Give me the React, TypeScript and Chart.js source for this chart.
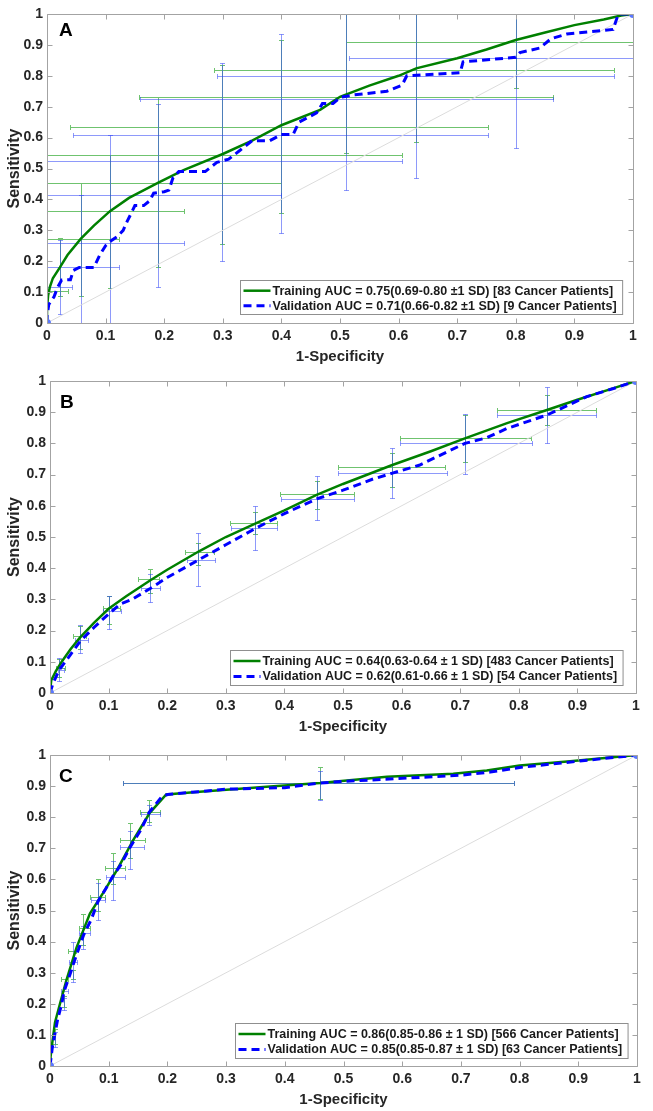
import React, { useEffect, useRef } from 'react';
import { Chart, registerables } from 'chart.js';

Chart.register(...registerables);

// ---------- shared ticks ----------
const TICK_VALUES = [0, 0.1, 0.2, 0.3, 0.4, 0.5, 0.6, 0.7, 0.8, 0.9, 1];
const TICK_LABELS = ['0', '0.1', '0.2', '0.3', '0.4', '0.5', '0.6', '0.7', '0.8', '0.9', '1'];
const X_TITLE = '1-Specificity';
const Y_TITLE = 'Sensitivity';
const DIAG_X = [0, 1];
const DIAG_Y = [0, 1];

// ---------- Panel A ----------
const A_TRAIN_X = [0, 0, 0.002, 0.005, 0.01, 0.022, 0.035, 0.0575, 0.08, 0.1075, 0.14, 0.19, 0.233, 0.3, 0.35, 0.4, 0.466, 0.5, 0.55, 0.6, 0.63, 0.7, 0.75, 0.8, 0.85, 0.9, 0.95, 0.98, 1];
const A_TRAIN_Y = [0, 0.05, 0.09, 0.117, 0.145, 0.18, 0.22, 0.272, 0.315, 0.362, 0.405, 0.454, 0.495, 0.547, 0.59, 0.64, 0.69, 0.732, 0.768, 0.8, 0.824, 0.857, 0.885, 0.916, 0.94, 0.964, 0.982, 0.995, 1];
const A_VALID_X = [0, 0, 0.003, 0.012, 0.018, 0.025, 0.04, 0.045, 0.055, 0.08, 0.09, 0.1, 0.11, 0.12, 0.13, 0.137, 0.145, 0.15, 0.165, 0.175, 0.182, 0.2, 0.208, 0.215, 0.225, 0.27, 0.29, 0.31, 0.33, 0.35, 0.38, 0.4, 0.42, 0.43, 0.46, 0.47, 0.488, 0.5, 0.523, 0.58, 0.606, 0.614, 0.705, 0.71, 0.8, 0.807, 0.841, 0.86, 0.887, 0.966, 0.975, 1];
const A_VALID_Y = [0, 0.02, 0.06, 0.085, 0.115, 0.139, 0.14, 0.17, 0.18, 0.18, 0.22, 0.25, 0.267, 0.28, 0.3, 0.33, 0.36, 0.38, 0.38, 0.395, 0.42, 0.425, 0.43, 0.47, 0.49, 0.49, 0.52, 0.53, 0.56, 0.59, 0.59, 0.61, 0.61, 0.65, 0.68, 0.71, 0.71, 0.73, 0.738, 0.75, 0.77, 0.8, 0.81, 0.845, 0.86, 0.875, 0.89, 0.92, 0.935, 0.95, 1, 1];
// vertical error bars: [x, yLow, yHigh]; horizontal: [y, xLow, xHigh]
const A_TRAIN_VBARS = [[0.022, 0.087, 0.275], [0.0575, 0.087, 0.454], [0.1075, 0.112, 0.545], [0.19, 0.18, 0.73], [0.298, 0.255, 0.835], [0.4, 0.355, 0.915], [0.51, 0.55, 1], [0.63, 0.586, 1], [0.8, 0.76, 1]];
const A_VALID_VBARS = [[0.022, 0.03, 0.27], [0.0575, 0, 0.415], [0.1075, 0, 0.61], [0.19, 0.117, 0.71], [0.298, 0.2, 0.84], [0.4, 0.29, 0.935], [0.51, 0.43, 1], [0.63, 0.47, 1], [0.8, 0.567, 1]];
const A_TRAIN_HBARS = [[0.105, 0, 0.035], [0.272, 0, 0.123], [0.362, 0, 0.233], [0.454, 0, 0.4], [0.545, 0, 0.605], [0.635, 0.04, 0.753], [0.73, 0.157, 0.864], [0.818, 0.285, 0.968], [0.91, 0.511, 1]];
const A_VALID_HBARS = [[0.117, 0, 0.042], [0.18, 0, 0.123], [0.26, 0, 0.233], [0.414, 0, 0.4], [0.523, 0, 0.605], [0.61, 0.045, 0.753], [0.725, 0.158, 0.864], [0.8, 0.29, 0.968], [0.857, 0.515, 1]];
const A_TRAIN_LABEL = 'Training AUC = 0.75(0.69-0.80 \u00B11 SD) [83 Cancer Patients]';
const A_VALID_LABEL = 'Validation AUC = 0.71(0.66-0.82 \u00B11 SD) [9 Cancer Patients]';

// ---------- Panel B ----------
const B_TRAIN_X = [0, 0.002, 0.01, 0.02, 0.035, 0.05, 0.075, 0.1, 0.13, 0.17, 0.2, 0.255, 0.3, 0.353, 0.4, 0.455, 0.5, 0.583, 0.65, 0.708, 0.78, 0.848, 0.9, 0.95, 1];
const B_TRAIN_Y = [0, 0.04, 0.07, 0.1, 0.14, 0.175, 0.225, 0.27, 0.31, 0.36, 0.395, 0.455, 0.5, 0.545, 0.585, 0.635, 0.67, 0.73, 0.775, 0.816, 0.865, 0.907, 0.94, 0.97, 1];
const B_VALID_X = [0, 0.005, 0.016, 0.03, 0.051, 0.075, 0.101, 0.12, 0.14, 0.171, 0.2, 0.253, 0.3, 0.353, 0.4, 0.455, 0.5, 0.55, 0.583, 0.63, 0.708, 0.745, 0.78, 0.848, 0.916, 0.96, 1];
const B_VALID_Y = [0, 0.03, 0.075, 0.11, 0.165, 0.21, 0.255, 0.285, 0.3, 0.335, 0.37, 0.426, 0.475, 0.53, 0.575, 0.622, 0.65, 0.685, 0.704, 0.73, 0.8, 0.818, 0.848, 0.891, 0.95, 0.975, 1];
const B_TRAIN_VBARS = [[0.016, 0.05, 0.11], [0.051, 0.14, 0.215], [0.101, 0.22, 0.31], [0.171, 0.32, 0.396], [0.253, 0.41, 0.48], [0.349, 0.51, 0.58], [0.455, 0.59, 0.68], [0.583, 0.66, 0.77], [0.708, 0.74, 0.89], [0.848, 0.86, 0.955]];
const B_VALID_VBARS = [[0.016, 0.039, 0.111], [0.051, 0.127, 0.218], [0.101, 0.204, 0.311], [0.171, 0.293, 0.38], [0.253, 0.343, 0.512], [0.349, 0.458, 0.6], [0.455, 0.555, 0.695], [0.583, 0.626, 0.786], [0.708, 0.701, 0.893], [0.848, 0.8, 0.982]];
const B_TRAIN_HBARS = [[0.08, 0.01, 0.025], [0.182, 0.04, 0.062], [0.273, 0.09, 0.119], [0.364, 0.151, 0.186], [0.453, 0.231, 0.28], [0.545, 0.307, 0.387], [0.637, 0.392, 0.518], [0.725, 0.492, 0.674], [0.816, 0.597, 0.82], [0.907, 0.762, 0.932]];
const B_VALID_HBARS = [[0.075, 0.013, 0.024], [0.17, 0.042, 0.065], [0.262, 0.09, 0.121], [0.336, 0.155, 0.188], [0.426, 0.233, 0.282], [0.53, 0.309, 0.387], [0.622, 0.395, 0.518], [0.704, 0.492, 0.677], [0.8, 0.597, 0.823], [0.891, 0.763, 0.932]];
const B_TRAIN_LABEL = 'Training AUC = 0.64(0.63-0.64 \u00B1 1 SD) [483 Cancer Patients]';
const B_VALID_LABEL = 'Validation AUC = 0.62(0.61-0.66 \u00B1 1 SD) [54 Cancer Patients]';

// ---------- Panel C ----------
const C_TRAIN_X = [0, 0.001, 0.003, 0.0085, 0.017, 0.028, 0.045, 0.068, 0.09, 0.114, 0.142, 0.17, 0.198, 0.255, 0.369, 0.46, 0.574, 0.687, 0.744, 0.8, 0.886, 1];
const C_TRAIN_Y = [0, 0.03, 0.062, 0.14, 0.2, 0.276, 0.38, 0.49, 0.555, 0.63, 0.727, 0.814, 0.873, 0.882, 0.898, 0.91, 0.93, 0.94, 0.95, 0.966, 0.98, 1];
const C_VALID_X = [0, 0.004, 0.008, 0.013, 0.02, 0.024, 0.035, 0.042, 0.057, 0.07, 0.082, 0.095, 0.107, 0.12, 0.137, 0.155, 0.169, 0.19, 0.2, 0.3, 0.4, 0.46, 0.5, 0.6, 0.7, 0.75, 0.8, 0.9, 1];
const C_VALID_Y = [0, 0.06, 0.1, 0.15, 0.2, 0.24, 0.3, 0.34, 0.42, 0.47, 0.53, 0.57, 0.61, 0.645, 0.705, 0.76, 0.816, 0.865, 0.873, 0.89, 0.895, 0.91, 0.915, 0.925, 0.935, 0.945, 0.96, 0.98, 1];
const C_TRAIN_VBARS = [[0.0085, 0.07, 0.12], [0.024, 0.19, 0.225], [0.039, 0.28, 0.31], [0.057, 0.39, 0.49], [0.082, 0.5, 0.6], [0.107, 0.585, 0.685], [0.137, 0.67, 0.78], [0.169, 0.785, 0.855], [0.46, 0.86, 0.96]];
const C_VALID_VBARS = [[0.0085, 0.06, 0.11], [0.024, 0.18, 0.22], [0.039, 0.27, 0.4], [0.057, 0.375, 0.45], [0.082, 0.47, 0.59], [0.107, 0.535, 0.66], [0.137, 0.635, 0.755], [0.169, 0.775, 0.84], [0.46, 0.855, 0.95]];
const C_TRAIN_HBARS = [[0.28, 0.018, 0.03], [0.37, 0.03, 0.045], [0.445, 0.05, 0.068], [0.542, 0.068, 0.093], [0.636, 0.093, 0.127], [0.727, 0.119, 0.162], [0.816, 0.153, 0.187], [0.91, 0.125, 0.79]];
const C_VALID_HBARS = [[0.24, 0.018, 0.03], [0.335, 0.032, 0.046], [0.427, 0.05, 0.068], [0.534, 0.07, 0.093], [0.609, 0.095, 0.128], [0.705, 0.12, 0.16], [0.81, 0.155, 0.187], [0.91, 0.125, 0.79]];
const C_TRAIN_LABEL = 'Training AUC = 0.86(0.85-0.86 \u00B1 1 SD) [566 Cancer Patients]';
const C_VALID_LABEL = 'Validation AUC = 0.85(0.85-0.87 \u00B1 1 SD) [63 Cancer Patients]';

// ---------- styling / layout ----------
const FONT = '"Liberation Sans", Arial, Helvetica, sans-serif';
const TEXT_COLOR = '#262626';
const TRAIN_COLOR = '#008000';
const VALID_COLOR = '#0000ff';
const TRAIN_BAR_COLOR = '#6fc36f';
const VALID_BAR_COLOR = 'rgba(50,70,245,0.55)';
const BOX_COLOR = '#a3a3a3';

type Bar = number[];
interface Panel {
  letter: string;
  trainX: number[]; trainY: number[];
  validX: number[]; validY: number[];
  trainV: Bar[]; validV: Bar[]; trainH: Bar[]; validH: Bar[];
  trainLabel: string; validLabel: string;
  layout: { top: number; height: number; padTop: number; yAxisW: number; padRight: number; xAxisH: number; letterDx: number; letterDy: number; legRight: number; legBottom: number; legH: number };
}

const PANELS: Panel[] = [
  {
    letter: 'A', trainX: A_TRAIN_X, trainY: A_TRAIN_Y, validX: A_VALID_X, validY: A_VALID_Y,
    trainV: A_TRAIN_VBARS, validV: A_VALID_VBARS, trainH: A_TRAIN_HBARS, validH: A_VALID_HBARS,
    trainLabel: A_TRAIN_LABEL, validLabel: A_VALID_LABEL,
    layout: { top: 0, height: 368, padTop: 14, yAxisW: 47, padRight: 20, xAxisH: 45, letterDx: 12, letterDy: 22, legRight: 11, legBottom: 9, legH: 34 },
  },
  {
    letter: 'B', trainX: B_TRAIN_X, trainY: B_TRAIN_Y, validX: B_VALID_X, validY: B_VALID_Y,
    trainV: B_TRAIN_VBARS, validV: B_VALID_VBARS, trainH: B_TRAIN_HBARS, validH: B_VALID_HBARS,
    trainLabel: B_TRAIN_LABEL, validLabel: B_VALID_LABEL,
    layout: { top: 368, height: 370, padTop: 13, yAxisW: 50, padRight: 17, xAxisH: 45, letterDx: 10, letterDy: 27, legRight: 13, legBottom: 8, legH: 35 },
  },
  {
    letter: 'C', trainX: C_TRAIN_X, trainY: C_TRAIN_Y, validX: C_VALID_X, validY: C_VALID_Y,
    trainV: C_TRAIN_VBARS, validV: C_VALID_VBARS, trainH: C_TRAIN_HBARS, validH: C_VALID_HBARS,
    trainLabel: C_TRAIN_LABEL, validLabel: C_VALID_LABEL,
    layout: { top: 738, height: 373, padTop: 17, yAxisW: 50, padRight: 16, xAxisH: 45, letterDx: 9, letterDy: 27, legRight: 9, legBottom: 8, legH: 35 },
  },
];

const toPoints = (xs: number[], ys: number[]) => xs.map((x, i) => ({ x, y: ys[i] }));

function makeDecor(p: Panel) {
  const CAP = 2.5;
  const drawBars = (chart: any, bars: Bar[], vertical: boolean, color: string) => {
    const { ctx } = chart;
    const xs = chart.scales.x;
    const ys = chart.scales.y;
    ctx.strokeStyle = color;
    ctx.lineWidth = 1;
    ctx.beginPath();
    for (const [c, lo, hi] of bars) {
      if (vertical) {
        const x = Math.round(xs.getPixelForValue(c)) + 0.5;
        const y1 = Math.round(ys.getPixelForValue(lo)) + 0.5;
        const y2 = Math.round(ys.getPixelForValue(hi)) + 0.5;
        ctx.moveTo(x, y1); ctx.lineTo(x, y2);
        ctx.moveTo(x - CAP, y1); ctx.lineTo(x + CAP, y1);
        ctx.moveTo(x - CAP, y2); ctx.lineTo(x + CAP, y2);
      } else {
        const y = Math.round(ys.getPixelForValue(c)) + 0.5;
        const x1 = Math.round(xs.getPixelForValue(lo)) + 0.5;
        const x2 = Math.round(xs.getPixelForValue(hi)) + 0.5;
        ctx.moveTo(x1, y); ctx.lineTo(x2, y);
        ctx.moveTo(x1, y - CAP); ctx.lineTo(x1, y + CAP);
        ctx.moveTo(x2, y - CAP); ctx.lineTo(x2, y + CAP);
      }
    }
    ctx.stroke();
  };
  return {
    id: 'decor' + p.letter,
    beforeDatasetsDraw(chart: any) {
      const { ctx, chartArea: a } = chart;
      ctx.save();
      ctx.beginPath();
      ctx.rect(a.left - 3, a.top - 1, a.right - a.left + 6, a.bottom - a.top + 2);
      ctx.clip();
      drawBars(chart, p.trainH, false, TRAIN_BAR_COLOR);
      drawBars(chart, p.trainV, true, TRAIN_BAR_COLOR);
      drawBars(chart, p.validH, false, VALID_BAR_COLOR);
      drawBars(chart, p.validV, true, VALID_BAR_COLOR);
      ctx.restore();
    },
    afterDraw(chart: any) {
      const { ctx, chartArea: a } = chart;
      const xs = chart.scales.x;
      const ys = chart.scales.y;
      ctx.save();
      // axes box with inward ticks
      ctx.strokeStyle = BOX_COLOR;
      ctx.lineWidth = 1;
      const L = Math.round(a.left) + 0.5, R = Math.round(a.right) + 0.5;
      const T = Math.round(a.top) + 0.5, B = Math.round(a.bottom) + 0.5;
      ctx.beginPath();
      ctx.rect(L, T, R - L, B - T);
      const TL = 5;
      for (const v of TICK_VALUES) {
        const x = Math.round(xs.getPixelForValue(v)) + 0.5;
        ctx.moveTo(x, B); ctx.lineTo(x, B - TL);
        ctx.moveTo(x, T); ctx.lineTo(x, T + TL);
        const y = Math.round(ys.getPixelForValue(v)) + 0.5;
        ctx.moveTo(L, y); ctx.lineTo(L + TL, y);
        ctx.moveTo(R, y); ctx.lineTo(R - TL, y);
      }
      ctx.stroke();

      // panel letter
      ctx.fillStyle = '#000';
      ctx.font = `bold 19px ${FONT}`;
      ctx.textAlign = 'left';
      ctx.textBaseline = 'alphabetic';
      ctx.fillText(p.letter, a.left + p.layout.letterDx, a.top + p.layout.letterDy);

      // legend
      ctx.font = `bold 12.5px ${FONT}`;
      const tw = Math.max(ctx.measureText(p.trainLabel).width, ctx.measureText(p.validLabel).width);
      const padL = 3, sample = 27, gap = 2, padR = 6;
      const bw = padL + sample + gap + tw + padR;
      const bh = p.layout.legH;
      const bx = Math.round(a.right - p.layout.legRight - bw) + 0.5;
      const by = Math.round(a.bottom - p.layout.legBottom - bh) + 0.5;
      ctx.fillStyle = '#fff';
      ctx.fillRect(bx, by, bw, bh);
      ctx.strokeStyle = '#8f8f8f';
      ctx.lineWidth = 1;
      ctx.strokeRect(bx, by, bw, bh);
      const rows = [
        { label: p.trainLabel, color: TRAIN_COLOR, width: 2.5, dash: [] as number[], cy: by + bh * 0.3 },
        { label: p.validLabel, color: VALID_COLOR, width: 3, dash: [8, 5], cy: by + bh * 0.74 },
      ];
      for (const r of rows) {
        ctx.beginPath();
        ctx.strokeStyle = r.color;
        ctx.lineWidth = r.width;
        ctx.setLineDash(r.dash);
        ctx.moveTo(bx + padL, r.cy);
        ctx.lineTo(bx + padL + sample, r.cy);
        ctx.stroke();
        ctx.setLineDash([]);
        ctx.fillStyle = '#1a1a1a';
        ctx.textBaseline = 'middle';
        ctx.fillText(r.label, bx + padL + sample + gap, r.cy + 0.5);
      }
      ctx.restore();
    },
  };
}

function RocPanel({ p }: { p: Panel }) {
  const ref = useRef<HTMLCanvasElement | null>(null);
  useEffect(() => {
    const canvas = ref.current;
    if (!canvas) return;
    const lay = p.layout;
    const lastIdx = p.validX.length - 1;
    const chart = new Chart(canvas, {
      type: 'scatter',
      data: {
        datasets: [
          {
            label: p.validLabel,
            data: toPoints(p.validX, p.validY),
            showLine: true,
            borderColor: VALID_COLOR,
            borderWidth: 3,
            borderDash: [8, 5],
            pointRadius: (c: any) => (c.dataIndex === 0 || c.dataIndex === lastIdx ? 2.5 : 0),
            pointBackgroundColor: '#5a78ff',
            pointBorderColor: '#5a78ff',
            tension: 0,
          },
          {
            label: p.trainLabel,
            data: toPoints(p.trainX, p.trainY),
            showLine: true,
            borderColor: TRAIN_COLOR,
            borderWidth: 2.5,
            pointRadius: 0,
            tension: 0,
          },
          {
            label: 'chance',
            data: toPoints(DIAG_X, DIAG_Y),
            showLine: true,
            borderColor: '#dcdcdc',
            borderWidth: 1,
            pointRadius: 0,
          },
        ],
      },
      options: {
        responsive: false,
        animation: false,
        layout: { padding: { top: lay.padTop, right: lay.padRight, left: 0, bottom: 0 } },
        plugins: { legend: { display: false }, tooltip: { enabled: false } },
        scales: {
          x: {
            type: 'linear', min: 0, max: 1,
            afterBuildTicks: (s: any) => { s.ticks = TICK_VALUES.map((v) => ({ value: v })); },
            afterFit: (s: any) => { s.height = lay.xAxisH; },
            ticks: {
              callback: (_v: any, i: number) => TICK_LABELS[i],
              font: { family: FONT, size: 14, weight: 'bold' },
              color: TEXT_COLOR, padding: 5, maxRotation: 0, autoSkip: false,
            },
            grid: { display: false, drawTicks: false },
            border: { display: false },
            title: {
              display: true, text: X_TITLE, color: TEXT_COLOR,
              font: { family: FONT, size: 15, weight: 'bold' },
              padding: { top: 0, bottom: 2 },
            },
          },
          y: {
            type: 'linear', min: 0, max: 1,
            afterBuildTicks: (s: any) => { s.ticks = TICK_VALUES.map((v) => ({ value: v })); },
            afterFit: (s: any) => { s.width = lay.yAxisW; },
            ticks: {
              callback: (_v: any, i: number) => TICK_LABELS[i],
              font: { family: FONT, size: 14, weight: 'bold' },
              color: TEXT_COLOR, padding: 4, autoSkip: false,
            },
            grid: { display: false, drawTicks: false },
            border: { display: false },
            title: {
              display: true, text: Y_TITLE, color: TEXT_COLOR,
              font: { family: FONT, size: 16, weight: 'bold' },
              padding: { top: 5, bottom: 0 },
            },
          },
        },
      } as any,
      plugins: [makeDecor(p)],
    } as any);
    return () => chart.destroy();
  }, [p]);
  return (
    <canvas
      ref={ref}
      width={653}
      height={p.layout.height}
      style={{ position: 'absolute', left: 0, top: p.layout.top, width: 653, height: p.layout.height }}
    />
  );
}

export default function App() {
  return (
    <div style={{ position: 'absolute', left: 0, top: 0, width: 653, height: 1111, background: '#fff' }}>
      {PANELS.map((p) => (
        <RocPanel key={p.letter} p={p} />
      ))}
    </div>
  );
}
